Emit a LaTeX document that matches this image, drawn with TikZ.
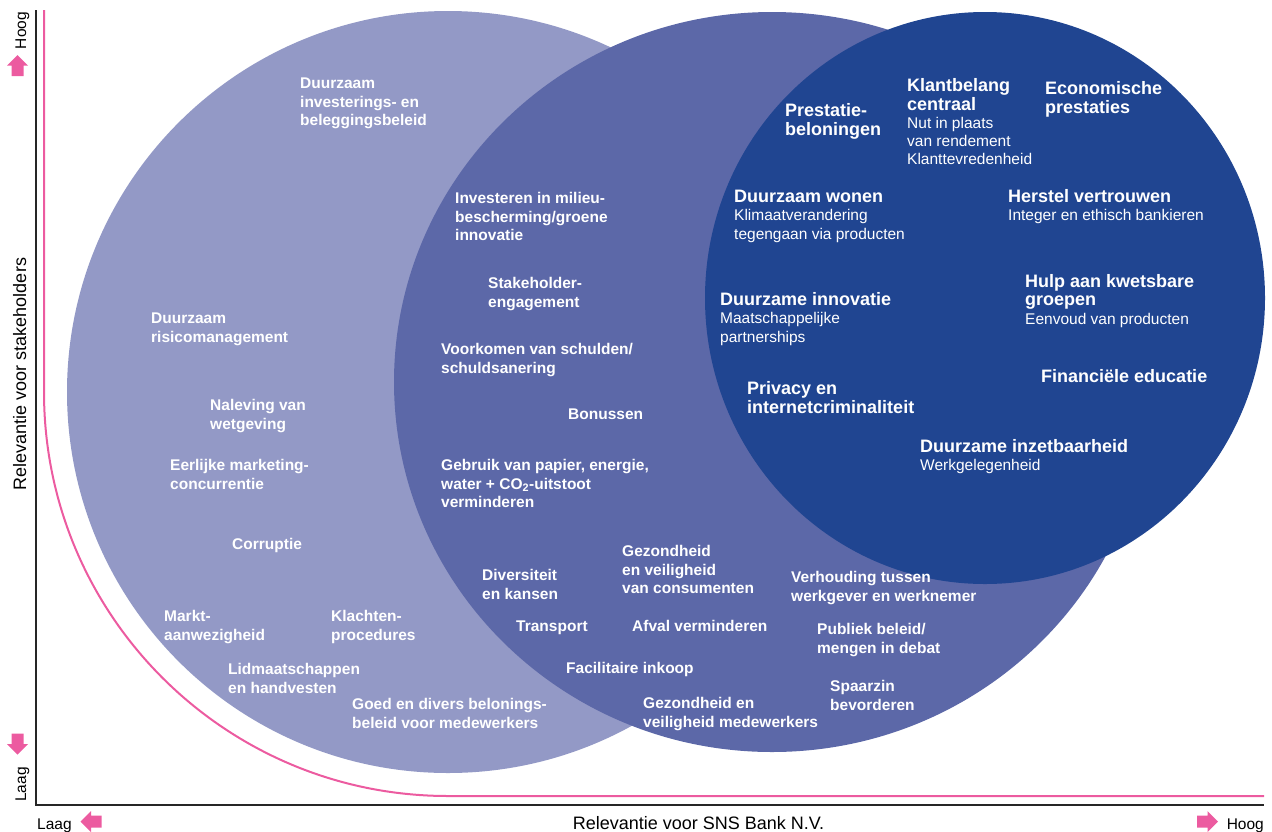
\documentclass[tikz,border=0pt]{standalone}
\usepackage{fontspec}
\setmainfont{Liberation Sans}
\definecolor{lightc}{HTML}{9399C6}
\definecolor{midc}{HTML}{5C68A8}
\definecolor{darkc}{HTML}{204591}
\definecolor{pinkc}{HTML}{EC5BA0}
\newcommand\ml[1]{\begin{tabular}[t]{@{}l@{}}#1\end{tabular}}
\newcommand\subf{\fontsize{15.5}{18.3}\selectfont\mdseries}
\tikzset{
  lbl/.style={anchor=base west, inner sep=0pt, text=white, font=\fontsize{15.5}{18.5}\selectfont\bfseries},
  big/.style={anchor=base west, inner sep=0pt, text=white, font=\fontsize{18}{18.3}\selectfont\bfseries},
  axislbl/.style={inner sep=0pt, text=black, font=\fontsize{18}{20}\selectfont},
  endlbl/.style={inner sep=0pt, text=black, font=\fontsize{15.5}{18}\selectfont},
  barrow/.pic={\fill[pinkc] (-10.5,-6) -- (0,-6) -- (0,-10.5) -- (10.5,0) -- (0,10.5) -- (0,6) -- (-10.5,6) -- cycle;}
}
\begin{document}
\begin{tikzpicture}[x=1pt,y=-1pt]
\useasboundingbox (0,0) rectangle (1272,831);
% circles
\fill[lightc] (448,392) circle[radius=381pt];
\fill[midc] (772,382) ellipse[x radius=378pt, y radius=370pt];
\fill[darkc] (985,298) ellipse[x radius=280pt, y radius=286pt];
% axes
\draw[pinkc, line width=2pt] (44,10) -- (44,392) arc[start angle=180, end angle=270, radius=404pt] -- (1264,796);
\draw[black!85, line width=1.4pt] (36,10) -- (36,805) -- (1264,805);
% axis labels and arrows
\node[axislbl, anchor=base] (xlab) at (698.5,829) {Relevantie voor SNS Bank N.V.};
\node[axislbl, anchor=base, rotate=90] (ylab) at (26,374) {Relevantie voor stakeholders};
\node[endlbl, anchor=base west] (xlow) at (37,829) {Laag};
\node[endlbl, anchor=base east] (xhigh) at (1264,829) {Hoog};
\node[endlbl, anchor=base, rotate=90] (yhigh) at (26,30.5) {Hoog};
\node[endlbl, anchor=base, rotate=90] (ylow) at (26,784.5) {Laag};
\pic[rotate=90] at (17.5,65.5) {barrow};
\pic[rotate=-90] at (17.5,744) {barrow};
\pic[rotate=180] at (91,821.5) {barrow};
\pic at (1207.5,821.5) {barrow};
% light circle labels
\node[lbl] (dinv) at (300,88.5) {\ml{Duurzaam\\investerings- en\\beleggingsbeleid}};
\node[lbl] (drisk) at (151,323.5) {\ml{Duurzaam\\risicomanagement}};
\node[lbl] (nalev) at (210,410.5) {\ml{Naleving van\\wetgeving}};
\node[lbl] (eerl) at (170,470.5) {\ml{Eerlijke marketing-\\concurrentie}};
\node[lbl] (corr) at (232,549.5) {Corruptie};
\node[lbl] (markt) at (164,621.5) {\ml{Markt-\\aanwezigheid}};
\node[lbl] (klacht) at (331,621.5) {\ml{Klachten-\\procedures}};
\node[lbl] (lidm) at (228,674.5) {\ml{Lidmaatschappen\\en handvesten}};
\node[lbl] (goed) at (352,709.5) {\ml{Goed en divers belonings-\\beleid voor medewerkers}};
% middle circle labels
\node[lbl] (inv) at (455,203.5) {\ml{Investeren in milieu-\\bescherming/groene\\innovatie}};
\node[lbl] (stake) at (488,288.5) {\ml{Stakeholder-\\engagement}};
\node[lbl] (voork) at (441,354.5) {\ml{Voorkomen van schulden/\\schuldsanering}};
\node[lbl] (bonus) at (568,419.5) {Bonussen};
\node[lbl] (gebr) at (441,470.5) {\ml{Gebruik van papier, energie,\\water + CO\textsubscript{2}-uitstoot\\verminderen}};
\node[lbl] (divers) at (482,580.5) {\ml{Diversiteit\\en kansen}};
\node[lbl] (gezcons) at (622,556.5) {\ml{Gezondheid\\en veiligheid\\van consumenten}};
\node[lbl] (verh) at (791,582.5) {\ml{Verhouding tussen\\werkgever en werknemer}};
\node[lbl] (transp) at (516,631.5) {Transport};
\node[lbl] (afval) at (632,631.5) {Afval verminderen};
\node[lbl] (publ) at (817,634.5) {\ml{Publiek beleid/\\mengen in debat}};
\node[lbl] (facil) at (566,673.5) {Facilitaire inkoop};
\node[lbl] (spaar) at (830,691.5) {\ml{Spaarzin\\bevorderen}};
\node[lbl] (gezmed) at (643,708.5) {\ml{Gezondheid en\\veiligheid medewerkers}};
% dark circle labels
\node[big] (prest) at (785,116.5) {\ml{Prestatie-\\beloningen}};
\node[big] (klant) at (907,91.5) {\ml{Klantbelang\\centraal\\\subf Nut in plaats\\\subf van rendement\\\subf Klanttevredenheid}};
\node[big] (econ) at (1045,94.5) {\ml{Economische\\prestaties}};
\node[big] (dwon) at (734,202.5) {\ml{Duurzaam wonen\\\subf Klimaatverandering\\\subf tegengaan via producten}};
\node[big] (herst) at (1008,202.5) {\ml{Herstel vertrouwen\\\subf Integer en ethisch bankieren}};
\node[big] (dinn) at (720,305.5) {\ml{Duurzame innovatie\\\subf Maatschappelijke\\\subf partnerships}};
\node[big] (hulp) at (1025,287.5) {\ml{Hulp aan kwetsbare\\groepen\\\subf Eenvoud van producten}};
\node[big] (priv) at (747,394.5) {\ml{Privacy en\\internetcriminaliteit}};
\node[big] (fin) at (1041,382.5) {Financiële educatie};
\node[big] (inzet) at (920,452.5) {\ml{Duurzame inzetbaarheid\\\subf Werkgelegenheid}};
\end{tikzpicture}
\end{document}
